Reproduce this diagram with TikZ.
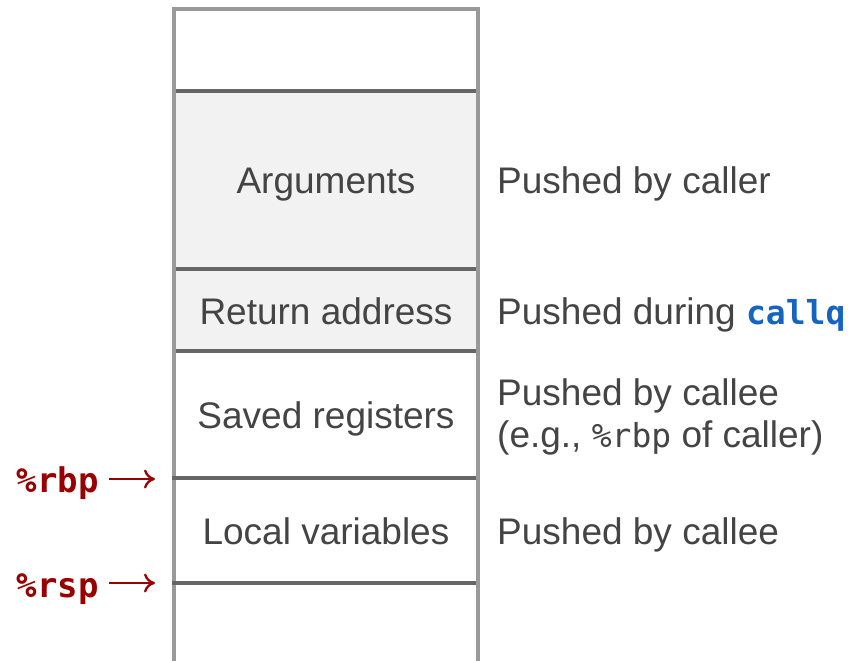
\documentclass[tikz,border=0pt]{standalone}
\usepackage{fontspec}
\usetikzlibrary{arrows.meta}
\setmainfont{Liberation Sans}
\setmonofont{DejaVu Sans Mono}
\definecolor{txt}{HTML}{444444}
\definecolor{edgec}{HTML}{999999}
\definecolor{divc}{HTML}{666666}
\definecolor{cellfill}{HTML}{F2F2F2}
\definecolor{regred}{HTML}{990000}
\definecolor{codeblue}{HTML}{1565C0}
\begin{document}
\begin{tikzpicture}[x=1pt,y=-1pt,
  celltext/.style={font=\fontsize{37}{42}\selectfont, text=txt, inner sep=0pt, anchor=base},
  notetext/.style={font=\fontsize{37}{42}\selectfont, text=txt, inner sep=0pt, anchor=base west},
  reglabel/.style={font=\fontsize{34}{36}\selectfont\ttfamily\bfseries, text=regred, inner sep=0pt, anchor=base east},
  regarrow/.style={draw=regred, line width=2.3pt, -{To[length=11pt,width=19pt,line width=2.3pt]}},
  divider/.style={draw=divc, line width=4pt},
  outline/.style={draw=edgec, line width=4pt}
]
\useasboundingbox (0,0) rectangle (860,661);
% shaded cells
\fill[cellfill] (174,91) rectangle (478,351);
% outer lines
\draw[outline] (174,675) -- (174,9) -- (478,9) -- (478,675);
% dividers
\coordinate (d1l) at (176,91);  \coordinate (d1r) at (476,91);
\coordinate (d2l) at (176,269); \coordinate (d2r) at (476,269);
\coordinate (d3l) at (176,351); \coordinate (d3r) at (476,351);
\coordinate (d4l) at (172,478); \coordinate (d4r) at (476,478);
\coordinate (d5l) at (172,583); \coordinate (d5r) at (476,583);
\draw[divider] (d1l) -- (d1r);
\draw[divider] (d2l) -- (d2r);
\draw[divider] (d3l) -- (d3r);
\draw[divider] (d4l) -- (d4r);
\draw[divider] (d5l) -- (d5r);
% cell texts
\node[celltext] (args) at (326,193) {Arguments};
\node[celltext] (ret) at (326,324) {Return address};
\node[celltext] (saved) at (326,428) {Saved registers};
\node[celltext] (locals) at (326,544) {Local variables};
% notes
\node[notetext] (n1) at (497,193) {Pushed by caller};
\node[notetext] (n2) at (497,324) {Pushed during {\fontsize{33}{36}\selectfont\ttfamily\bfseries\color{codeblue}callq}};
\node[notetext] (n3a) at (497,405) {Pushed by callee};
\node[notetext] (n3b) at (497,447) {(e.g., {\fontsize{33}{36}\selectfont\ttfamily \%rbp} of caller)};
\node[notetext] (n4) at (497,544) {Pushed by callee};
% register labels
\node[reglabel] (rbp) at (99,492) {\%rbp};
\node[reglabel] (rsp) at (99,597) {\%rsp};
\coordinate (rbptip) at (155,479);
\coordinate (rsptip) at (155,583);
\draw[regarrow] ([xshift=10pt]rbp.east |- rbptip) -- (rbptip);
\draw[regarrow] ([xshift=10pt]rsp.east |- rsptip) -- (rsptip);
\end{tikzpicture}
\end{document}
